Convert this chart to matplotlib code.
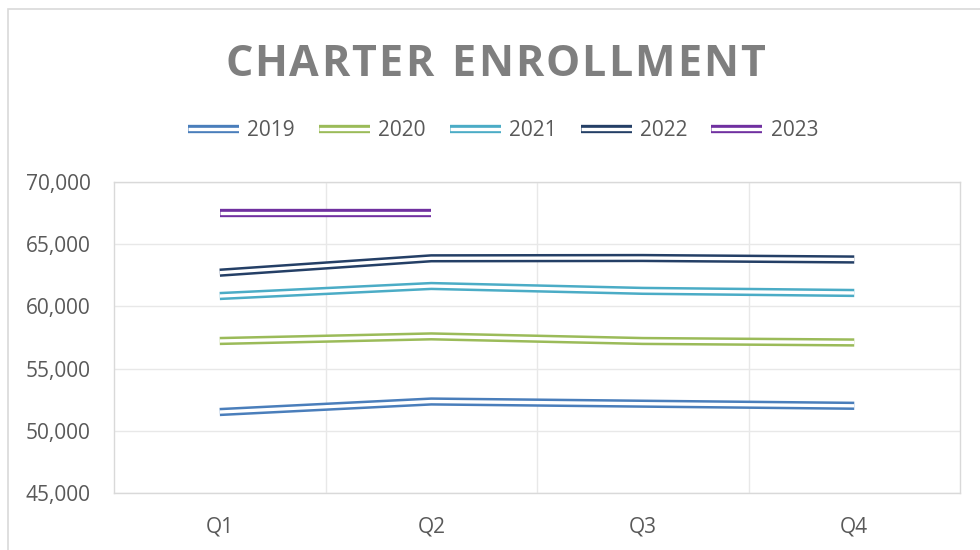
import matplotlib
matplotlib.use('Agg')
import matplotlib.pyplot as plt
import matplotlib.patheffects as pe
from matplotlib.ticker import FuncFormatter, MultipleLocator
from matplotlib.patches import Rectangle

quarters = ['Q1', 'Q2', 'Q3', 'Q4']
years = ['2019', '2020', '2021', '2022', '2023']
enr_2019 = [51510, 52355, 52180, 52010]
enr_2020 = [57220, 57590, 57220, 57100]
enr_2021 = [60835, 61640, 61250, 61080]
enr_2022 = [62710, 63866, 63890, 63770]
enr_2023 = [67500, 67500]
series = [enr_2019, enr_2020, enr_2021, enr_2022, enr_2023]
colors = ['#4a7ebb', '#9bbb59', '#4bacc6', '#243f66', '#7030a0']

W, H = 980, 550
fig = plt.figure(figsize=(W / 100, H / 100), dpi=100)
fig.patch.set_facecolor('white')

# chart border
fig.patches.append(Rectangle((8 / W, -0.05), 1.2, 1 - 9 / H + 0.05, transform=fig.transFigure,
                             fill=False, edgecolor='#d9d9d9', linewidth=1.2, zorder=0))

ax = fig.add_axes([114 / W, 1 - 493 / H, (960 - 114) / W, (493 - 182) / H])
x = list(range(1, 5))
for yr, vals, c in zip(years, series, colors):
    ax.plot(x[:len(vals)], vals, color=c, linewidth=6.0, label=yr, solid_capstyle='butt',
            solid_joinstyle='round',
            path_effects=[pe.Stroke(linewidth=6.0, foreground=c),
                          pe.Stroke(linewidth=2.4, foreground='white'),
                          ], zorder=3)

ax.set_xlim(0.5, 4.5)
ax.set_ylim(45000, 70000)
ax.yaxis.set_major_locator(MultipleLocator(5000))
ax.yaxis.set_major_formatter(FuncFormatter(lambda v, p: f'{int(v):,}'))
ax.set_xticks(x)
ax.set_xticklabels(quarters)
ax.set_xticks([1.5, 2.5, 3.5], minor=True)
ax.grid(True, axis='y', which='major', color='#e8e8e8', linewidth=1.0)
ax.grid(True, axis='x', which='minor', color='#e8e8e8', linewidth=1.0)
ax.tick_params(axis='both', which='both', length=0)
ax.tick_params(axis='y', pad=17, labelsize=15, labelcolor='#595959')
ax.tick_params(axis='x', pad=17, labelsize=15, labelcolor='#595959')
for lab in ax.get_xticklabels() + ax.get_yticklabels():
    lab.set_fontfamily('Open Sans')
for s in ax.spines.values():
    s.set_color('#d9d9d9')
    s.set_linewidth(1.0)
ax.set_axisbelow(True)

leg = fig.legend(loc='center', bbox_to_anchor=(503 / W, 1 - 131 / H), ncol=5, frameon=False,
                 handlelength=2.45, handletextpad=0.4, columnspacing=1.15,
                 prop={'family': 'Open Sans', 'size': 15})
for t in leg.get_texts():
    t.set_color('#595959')

# Title with letter spacing
title = 'CHARTER ENROLLMENT'
fs = 31
renderer = fig.canvas.get_renderer()
widths = []
for ch in title:
    t = fig.text(0, 0, ch if ch != ' ' else 'I', fontsize=fs, fontweight='bold', family='Open Sans')
    bb = t.get_window_extent(renderer)
    widths.append(bb.width)
    t.remove()
x0, x1 = 225, 765
total = sum(widths)
track = (x1 - x0 - total) / (len(title) - 1)
cx = x0
for ch, w in zip(title, widths):
    if ch != ' ':
        fig.text(cx / W, 1 - 76 / H, ch, fontsize=fs, fontweight='bold', family='Open Sans',
                 color='#7f7f7f', ha='left', va='baseline')
    cx += w + track

fig.savefig('out.png', dpi=100, facecolor='white')
